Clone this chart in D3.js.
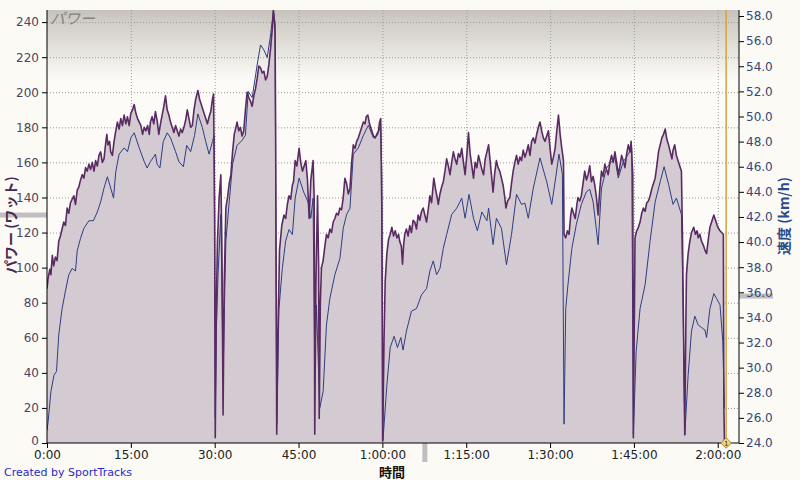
<!DOCTYPE html>
<html lang="ja">
<head>
<meta charset="utf-8">
<title>パワー / 速度</title>
<script src="https://cdn.jsdelivr.net/npm/d3@7"></script>
<style>
  body { margin: 0; background: #fbfaf5; }
  .tick text { font-family: "DejaVu Sans", sans-serif; font-size: 12px; }
  .grid line { stroke: #9a9a9a; stroke-dasharray: 1,2; }
  .grid path { display: none; }
</style>
</head>
<body>
<script>
// values, time in minutes
var powerData = [
  [0,88],[0.2,94],[0.5,99],[0.7,96],[0.95,107],[1.2,101],[1.5,106],[1.8,104],[2.1,115],[2.4,118],[2.7,122],[3.0,126],[3.3,124],[3.6,134],[3.9,131],[4.2,137],[4.5,139],[4.8,141],[5.1,136],[5.4,144],[5.7,146],[6.0,150],[6.3,153],[6.6,151],[6.9,157],[7.2,155],[7.5,159],[7.8,156],[8.1,160],[8.4,155],[8.7,161],[9.0,158],[9.3,164],[9.6,166],[9.9,160],[10.2,162],[10.5,171],[10.7,176],[10.9,170],[11.2,172],[11.4,166],[11.7,164],[12.0,172],[12.3,178],[12.6,183],[12.9,179],[13.2,185],[13.5,181],[13.8,187],[14.1,182],[14.4,186],[14.7,181],[15.0,188],[15.3,190],[15.6,193],[15.9,188],[16.2,185],[16.5,183],[16.8,181],[17.1,176],[17.4,180],[17.7,178],[18.0,181],[18.3,176],[18.5,183],[18.8,186],[19.1,182],[19.4,189],[19.7,184],[20.0,176],[20.3,182],[20.6,187],[20.9,192],[21.2,198],[21.5,190],[21.8,187],[22.1,183],[22.4,180],[22.7,177],[23.0,181],[23.3,178],[23.6,175],[23.9,179],[24.2,177],[24.5,180],[24.8,184],[25.1,190],[25.4,185],[25.7,180],[26.0,181],[26.3,190],[26.6,196],[27.0,201],[27.3,196],[27.6,193],[27.8,191],[28.1,188],[28.4,185],[28.7,182],[29.0,186],[29.3,189],[29.6,196],[29.8,199],
  [30.0,127],[30.1,3],[30.3,80],[30.5,115],[30.8,140],[31.1,153],[31.3,110],[31.5,16],[31.7,90],[32.0,134],[32.3,140],[32.6,148],[32.9,153],[33.2,166],[33.5,176],[33.8,180],[34.0,183],[34.3,178],[34.6,180],[34.9,175],[35.2,178],[35.5,190],[35.8,200],[36.1,197],[36.4,195],[36.7,192],[37.0,198],[37.3,202],[37.6,208],[37.9,215],[38.2,214],[38.5,211],[38.8,212],[39.1,207],[39.4,209],[39.7,216],[40.0,225],[40.3,236],[40.5,247],[40.7,240],[40.8,234],[40.9,181],[41.1,5],
  [41.3,60],[41.6,110],[42.0,124],[42.4,130],[42.7,128],[43.0,136],[43.3,141],[43.6,139],[43.9,147],[44.1,149],[44.4,161],[44.7,158],[45.1,168],[45.4,160],[45.7,155],[46.0,158],[46.3,161],[46.6,150],[46.9,128],[47.2,150],[47.6,161],[47.8,140],[47.9,5],[48.1,90],[48.4,141],[48.6,100],[48.7,14],[48.9,80],[49.1,100],[49.4,104],[49.7,112],[50.0,119],[50.3,117],[50.6,122],[50.9,120],[51.2,126],[51.5,128],[51.8,131],[52.1,130],[52.4,134],[52.7,133],[53.0,140],[53.3,151],[53.6,148],[53.9,142],[54.2,145],[54.5,160],[54.8,170],[55.1,168],[55.4,172],[55.7,174],[56.0,177],[56.3,180],[56.6,183],[56.9,182],[57.1,186],[57.4,187],[57.7,182],[58.1,178],[58.4,175],[58.7,174],[59.0,176],[59.3,178],[59.5,183],[59.7,185],[59.9,134],[60.05,1],
  [60.3,60],[60.5,92],[60.8,108],[61.1,116],[61.4,119],[61.7,123],[62.0,118],[62.3,121],[62.6,117],[62.9,119],[63.1,115],[63.4,112],[63.6,102],[63.8,113],[64.0,119],[64.3,122],[64.6,118],[64.9,124],[65.2,120],[65.5,127],[65.8,126],[66.1,122],[66.4,130],[66.7,127],[67.0,132],[67.3,134],[67.6,130],[67.9,126],[68.2,133],[68.5,141],[68.8,137],[69.2,151],[69.5,145],[69.8,140],[70.0,136],[70.3,142],[70.6,146],[70.9,149],[71.2,155],[71.5,162],[71.8,158],[72.1,153],[72.4,160],[72.7,166],[73.0,162],[73.3,159],[73.6,165],[73.9,163],[74.2,168],[74.5,160],[74.8,153],[75.1,164],[75.4,177],[75.7,165],[76.0,158],[76.3,151],[76.6,160],[76.9,157],[77.2,164],[77.5,160],[77.8,156],[78.1,153],[78.4,162],[78.7,166],[79.0,170],[79.3,160],[79.6,150],[79.8,143],[80.1,154],[80.4,161],[80.7,157],[81.0,155],[81.3,151],[81.6,147],[81.9,140],[82.1,134],[82.4,138],[82.8,140],[83.1,148],[83.4,155],[83.7,160],[84.0,164],[84.3,159],[84.6,163],[84.9,161],[85.2,167],[85.5,163],[85.8,166],[86.1,170],[86.4,164],[86.7,172],[87.0,174],[87.3,171],[87.6,176],[87.9,180],[88.2,183],[88.5,178],[88.8,174],[89.1,172],[89.4,175],[89.7,178],[90.0,168],[90.3,159],[90.6,163],[90.9,168],[91.2,178],[91.5,187],[91.8,176],[92.1,168],[92.4,161],
  [92.5,119],[92.8,117],[93.1,121],[93.4,119],[93.7,130],[93.9,134],[94.2,131],[94.5,128],[94.8,136],[95.0,140],[95.3,138],[95.6,141],[95.9,148],[96.2,155],[96.5,150],[96.8,153],[97.1,158],[97.4,149],[97.7,152],[98.0,147],[98.3,140],[98.6,130],[98.9,145],[99.2,155],[99.5,152],[99.8,159],[100.1,156],[100.4,153],[100.7,160],[101.0,164],[101.3,160],[101.6,166],[101.9,160],[102.2,153],[102.5,158],[102.8,164],[103.1,161],[103.4,157],[103.7,165],[104.0,170],[104.3,166],[104.5,172],[104.8,153],[104.9,3],
  [105.1,80],[105.2,117],[105.5,121],[105.8,123],[106.1,126],[106.4,131],[106.7,134],[107.0,132],[107.3,137],[107.6,138],[107.9,141],[108.2,145],[108.5,148],[108.8,151],[109.1,158],[109.4,166],[109.7,170],[110.0,174],[110.3,176],[110.6,179],[110.9,173],[111.2,170],[111.5,166],[111.8,162],[112.0,167],[112.3,170],[112.6,164],[112.9,161],[113.2,158],[113.5,155],[113.7,115],[113.9,58],[114.1,5],
  [114.3,70],[114.4,96],[114.7,108],[115.0,115],[115.3,120],[115.7,123],[116.0,119],[116.3,121],[116.5,117],[116.8,119],[117.1,115],[117.4,113],[117.7,110],[118.0,108],[118.3,116],[118.6,123],[118.9,126],[119.3,130],[119.6,127],[119.9,124],[120.2,122],[120.4,121],[120.7,120],[121.0,119],[121.1,20],[121.2,1]
];

var speedData = [
  [0,25.0],[0.2,25.7],[0.7,28.1],[1.25,29.4],[1.7,29.7],[2.1,32.6],[2.7,34.7],[3.3,36.1],[3.9,37.4],[4.5,37.9],[5.1,37.7],[5.4,39.3],[6.0,40.3],[6.6,41.1],[7.5,41.7],[8.3,41.7],[9.0,42.4],[9.6,43.2],[10.2,44.3],[10.8,45.2],[11.4,44.3],[11.9,43.5],[12.3,45.6],[12.9,47.0],[13.8,47.5],[14.4,47.2],[15.0,48.3],[15.6,48.7],[16.5,47.5],[17.4,46.4],[17.9,45.9],[18.5,46.4],[19.4,47.0],[19.7,46.2],[20.2,45.9],[20.8,48.0],[21.5,48.7],[22.1,48.3],[23.0,47.2],[23.6,46.4],[24.4,46.0],[25.0,47.7],[25.7,47.2],[26.4,48.5],[27.0,50.2],[27.8,49.1],[28.4,48.0],[29.0,47.0],[29.6,48.0],[29.9,48.5],
  [30.1,26.0],[30.3,33.0],[30.6,37.4],[31.1,42.2],[31.3,36.0],[31.5,29.4],[31.8,36.0],[32.0,40.1],[32.6,43.2],[33.2,46.2],[34.0,47.7],[34.9,48.1],[35.5,48.5],[36.0,52.0],[36.7,51.5],[37.6,54.1],[38.2,55.7],[38.8,55.3],[39.4,54.7],[40.0,56.5],[40.5,58.4],[40.8,57.4],[40.95,40.0],[41.1,25.5],
  [41.5,34.7],[42.1,37.9],[42.7,40.1],[43.3,41.0],[43.9,40.6],[44.4,43.5],[45.1,45.1],[45.9,44.0],[46.7,43.2],[47.2,41.9],[47.6,43.5],[47.9,30.0],[48.2,35.0],[48.8,26.8],[49.4,28.1],[50.0,33.4],[50.6,35.5],[51.5,37.4],[52.4,38.7],[53.0,41.1],[53.6,42.2],[54.2,42.7],[54.8,47.0],[55.7,47.5],[56.6,48.5],[57.5,49.3],[58.4,48.3],[59.1,48.5],[59.7,49.3],[59.9,45.4],[60.1,24.2],
  [60.8,28.6],[61.4,31.6],[62.1,32.5],[62.7,31.6],[63.3,32.4],[63.7,31.4],[64.3,32.9],[65.2,34.5],[66.1,34.7],[67.0,35.8],[67.9,36.3],[68.5,37.7],[69.1,38.5],[69.7,37.4],[70.3,37.9],[70.9,39.5],[71.5,40.6],[72.4,42.2],[73.3,42.7],[74.2,43.5],[74.8,41.9],[75.5,43.8],[76.3,41.9],[77.0,40.9],[77.8,42.4],[78.7,41.7],[79.0,42.7],[79.8,39.8],[80.4,41.9],[81.3,41.1],[82.2,38.2],[83.1,40.6],[84.0,43.8],[84.9,43.0],[85.5,43.1],[86.1,41.9],[87.0,44.3],[88.2,46.7],[89.4,44.8],[90.3,43.0],[90.9,44.8],[91.6,47.0],[92.2,45.4],[92.5,25.5],
  [92.8,34.7],[93.2,36.6],[93.9,39.5],[94.7,41.4],[95.6,43.0],[96.5,44.0],[97.1,44.2],[97.7,43.2],[98.6,39.8],[99.2,44.3],[100.1,45.9],[101.0,46.4],[101.6,46.7],[102.2,45.1],[103.1,46.4],[104.0,47.0],[104.6,47.5],[104.9,24.7],
  [105.4,31.3],[106.1,34.7],[107.0,36.6],[107.9,40.1],[108.8,43.2],[109.7,44.8],[110.4,46.0],[111.2,44.6],[112.0,43.0],[112.6,43.5],[113.5,42.2],[113.8,34.7],[114.1,24.6],
  [114.7,29.4],[115.3,32.9],[115.9,34.1],[116.5,33.4],[117.1,33.2],[117.7,33.0],[118.0,32.4],[118.6,34.7],[119.3,35.9],[119.8,35.5],[120.4,35.0],[120.9,32.1],[121.2,26.8]
];

var timeTicks = [0, 15, 30, 45, 60, 75, 90, 105, 120];
var timeLabels = ["0:00", "15:00", "30:00", "45:00", "1:00:00", "1:15:00", "1:30:00", "1:45:00", "2:00:00"];
var powerTicks = [0, 20, 40, 60, 80, 100, 120, 140, 160, 180, 200, 220, 240];
var speedTicks = [24, 26, 28, 30, 32, 34, 36, 38, 40, 42, 44, 46, 48, 50, 52, 54, 56, 58];

// cursor and marker positions
var cursorTime = 67.6, cursorPower = 130, cursorSpeed = 35.7;
var markerTime = 121.5;

var w = 800, h = 480;
var mLeft = 47, mRight = 739, mTop = 10, mBottom = 443;

var x = d3.scaleLinear().domain([0, 123.8]).range([mLeft, mRight]);
var yP = d3.scaleLinear().domain([0, 246.9]).range([mBottom, mTop]);
var yS = d3.scaleLinear().domain([24, 58.48]).range([mBottom, mTop]);

var svg = d3.select("body").append("svg")
  .attr("width", w)
  .attr("height", h);

var defs = svg.append("defs");
var grad = defs.append("linearGradient").attr("id", "topfade")
  .attr("x1", 0).attr("y1", 0).attr("x2", 0).attr("y2", 1);
grad.append("stop").attr("offset", "0%").attr("stop-color", "#c7c3bc");
grad.append("stop").attr("offset", "100%").attr("stop-color", "#fcfbf7");

defs.append("clipPath").attr("id", "plotclip")
  .append("rect").attr("x", mLeft).attr("y", mTop)
  .attr("width", mRight - mLeft).attr("height", mBottom - mTop);

// plot background
svg.append("rect").attr("x", mLeft).attr("y", mTop)
  .attr("width", mRight - mLeft).attr("height", mBottom - mTop)
  .attr("fill", "#fcfbf7");
svg.append("rect").attr("x", mLeft).attr("y", mTop)
  .attr("width", mRight - mLeft).attr("height", 70)
  .attr("fill", "url(#topfade)");

// grid
svg.append("g").attr("class", "grid")
  .attr("transform", "translate(" + mLeft + ",0)")
  .call(d3.axisLeft(yP).tickValues(powerTicks.slice(1)).tickSize(-(mRight - mLeft)).tickFormat(""));
svg.append("g").attr("class", "grid")
  .attr("transform", "translate(0," + mBottom + ")")
  .call(d3.axisBottom(x).tickValues(timeTicks.slice(1)).tickSize(-(mBottom - mTop)).tickFormat(""));

var plot = svg.append("g").attr("clip-path", "url(#plotclip)");

var area = d3.area()
  .x(function(d) { return x(d[0]); })
  .y0(mBottom)
  .y1(function(d) { return yP(d[1]); });

var powerLine = d3.line()
  .x(function(d) { return x(d[0]); })
  .y(function(d) { return yP(d[1]); });

var speedLine = d3.line()
  .x(function(d) { return x(d[0]); })
  .y(function(d) { return yS(d[1]); });

plot.append("path").datum(powerData)
  .attr("d", area)
  .attr("fill", "#d4cad1");

plot.append("path").datum(speedData)
  .attr("d", speedLine)
  .attr("fill", "none")
  .attr("stroke", "#2e3d82")
  .attr("stroke-width", 1);

plot.append("path").datum(powerData)
  .attr("d", powerLine)
  .attr("fill", "none")
  .attr("stroke", "#5a2b62")
  .attr("stroke-width", 1.6)
  .attr("stroke-linejoin", "round");

// series name in the corner
svg.append("text")
  .attr("x", mLeft + 3).attr("y", mTop + 14)
  .attr("font-family", "'Noto Sans CJK JP', sans-serif")
  .attr("font-size", 15).attr("font-style", "italic")
  .attr("fill", "#85827f")
  .text("パワー");

// cursor markers
svg.append("rect").attr("x", 0).attr("y", yP(cursorPower) - 2.5)
  .attr("width", mLeft).attr("height", 5).attr("fill", "#c2bec0");
svg.append("rect").attr("x", mRight).attr("y", yS(cursorSpeed) - 2.5)
  .attr("width", 34).attr("height", 5).attr("fill", "#c2bec0");
svg.append("rect").attr("x", x(cursorTime) - 2.5).attr("y", mBottom)
  .attr("width", 5).attr("height", 19).attr("fill", "#c2bec0");

// axes
var axL = svg.append("g").attr("transform", "translate(" + mLeft + ",0)")
  .call(d3.axisLeft(yP).tickValues(powerTicks).tickSize(5).tickPadding(3).tickFormat(d3.format("d")));
axL.selectAll("text").attr("fill", "#4e4460");
axL.selectAll("line").attr("stroke", "#000");
axL.select(".domain").attr("d", "M0," + mTop + "V" + mBottom).attr("stroke", "#000");
// lift the "0" a little so it clears the time labels
axL.selectAll(".tick text").filter(function(d) { return d === 0; }).attr("dy", "0.1em");

var axR = svg.append("g").attr("transform", "translate(" + mRight + ",0)")
  .call(d3.axisRight(yS).tickValues(speedTicks).tickSize(5).tickPadding(2).tickFormat(d3.format(".1f")));
axR.selectAll("text").attr("fill", "#34477a");
axR.selectAll("line").attr("stroke", "#000");
axR.select(".domain").attr("d", "M0," + mTop + "V" + mBottom).attr("stroke", "#000");

var axB = svg.append("g").attr("transform", "translate(0," + mBottom + ")")
  .call(d3.axisBottom(x).tickValues(timeTicks).tickSize(5).tickPadding(2)
    .tickFormat(function(d, i) { return timeLabels[i]; }));
axB.selectAll("text").attr("fill", "#222");
axB.selectAll("line").attr("stroke", "#000");
axB.select(".domain").attr("d", "M" + mLeft + ",0H" + mRight).attr("stroke", "#000");

// end marker
svg.append("line")
  .attr("x1", x(markerTime)).attr("x2", x(markerTime))
  .attr("y1", mTop).attr("y2", mBottom)
  .attr("stroke", "#d2a43c").attr("stroke-width", 1.5);
svg.append("path")
  .attr("d", d3.symbol(d3.symbolDiamond2, 70)())
  .attr("transform", "translate(" + x(markerTime) + "," + mBottom + ")")
  .attr("fill", "#efd577").attr("stroke", "#a88a3a");
svg.append("text")
  .attr("x", x(markerTime)).attr("y", mBottom + 3)
  .attr("text-anchor", "middle")
  .attr("font-family", "'DejaVu Sans', sans-serif").attr("font-size", 7)
  .attr("fill", "#333").text("1");

// axis titles
svg.append("text")
  .attr("transform", "translate(16,225) rotate(-90)")
  .attr("text-anchor", "middle")
  .attr("font-family", "'Noto Sans CJK JP', sans-serif")
  .attr("font-size", 14).attr("font-weight", "bold")
  .attr("fill", "#4a2854")
  .text("パワー (ワット)");

svg.append("text")
  .attr("transform", "translate(789,216) rotate(-90)")
  .attr("text-anchor", "middle")
  .attr("font-family", "'Noto Sans CJK JP', sans-serif")
  .attr("font-size", 14).attr("font-weight", "bold")
  .attr("fill", "#2d4a88")
  .text("速度 (km/h)");

svg.append("text")
  .attr("x", 392).attr("y", 477)
  .attr("text-anchor", "middle")
  .attr("font-family", "'Noto Sans CJK JP', sans-serif")
  .attr("font-size", 13).attr("font-weight", "bold")
  .attr("fill", "#111")
  .text("時間");

svg.append("text")
  .attr("x", 4).attr("y", 476)
  .attr("font-family", "'DejaVu Sans', sans-serif")
  .attr("font-size", 11)
  .attr("fill", "#2b2bc8")
  .text("Created by SportTracks");
</script>
</body>
</html>
